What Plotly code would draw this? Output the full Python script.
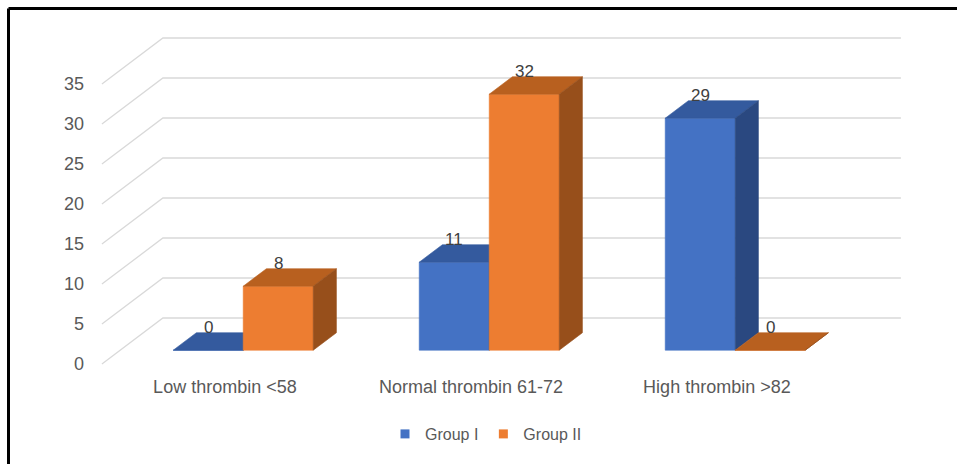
import plotly.graph_objects as go

# ---------------- data ----------------
categories = ["Low thrombin <58", "Normal thrombin 61-72", "High thrombin >82"]
series_names = ["Group I", "Group II"]
group1 = [0, 11, 29]
group2 = [8, 32, 0]
y_ticks = [0, 5, 10, 15, 20, 25, 30, 35]

# ---------------- styling / geometry ----------------
front_colors = ["#4472C4", "#ED7D31"]
top_colors = ["#345A9E", "#B8601F"]
side_colors = ["#2A4880", "#974F1B"]
grid_color = "#D9D9D9"
FONT = "Liberation Sans"

W, H = 957, 464
L, R, T, B = 97, 48, 30, 94
PX_X = 246.0           # pixels per category unit
PX_Y = 8.0             # pixels per value unit
plot_w = W - L - R
plot_h = H - T - B
x_lo = -0.52
x_hi = x_lo + plot_w / PX_X
y_lo = -0.75
y_hi = y_lo + plot_h / PX_Y

DX = 61.0 / PX_X       # full-depth offset (x units)
DY = 46.0 / PX_Y       # full-depth offset (value units)
ZF, ZB = 0.30, 0.68    # bar front / back depth
BW = 70.0 / PX_X       # bar width
WALL_L, WALL_R = -0.5, 2.5


def proj(x, v, z):
    return x + z * DX, v + z * DY


def poly(points):
    xs, ys = [], []
    for p in points:
        px, py = proj(*p)
        xs.append(px)
        ys.append(py)
    xs.append(xs[0])
    ys.append(ys[0])
    return xs, ys


fig = go.Figure()

# gridlines (side wall diagonal + back wall horizontal)
gx, gy = [], []
for v in y_ticks:
    for p in [(WALL_L, v, 0), (WALL_L, v, 1), (WALL_R, v, 1)]:
        a, b = proj(*p)
        gx.append(a)
        gy.append(b)
    gx.append(None)
    gy.append(None)
fig.add_trace(go.Scatter(x=gx, y=gy, mode="lines", line=dict(color=grid_color, width=1.3),
                         hoverinfo="skip", showlegend=False))

values = [group1, group2]
annotations = []
for i in range(len(categories)):
    for s in range(2):
        v = values[s][i]
        x0 = i - BW + s * BW
        x1 = x0 + BW
        faces = [
            ([(x0, 0, ZF), (x1, 0, ZF), (x1, v, ZF), (x0, v, ZF)], front_colors[s]),
            ([(x0, v, ZF), (x1, v, ZF), (x1, v, ZB), (x0, v, ZB)], top_colors[s]),
            ([(x1, 0, ZF), (x1, 0, ZB), (x1, v, ZB), (x1, v, ZF)], side_colors[s]),
        ]
        for pts, col in faces:
            xs, ys = poly(pts)
            fig.add_trace(go.Scatter(x=xs, y=ys, mode="lines", fill="toself",
                                     fillcolor=col, line=dict(color=col, width=0.6),
                                     hoverinfo="skip", showlegend=False))
        lx, _ = proj((x0 + x1) / 2, v, ZF)
        _, ly = proj(x0, v, ZB)
        annotations.append(dict(x=lx, y=ly, text=str(v), showarrow=False,
                                xref="x", yref="y", yanchor="middle", yshift=5,
                                font=dict(family=FONT, size=17, color="#404040")))

# legend entries
for s in range(2):
    fig.add_trace(go.Scatter(x=[None], y=[None], mode="markers", name=series_names[s],
                             marker=dict(symbol="square", size=9, color=front_colors[s])))

# frame (top and left black border)
bx = (8.5 - L) / plot_w
by = (plot_h + T - 8.5) / plot_h
shapes = [
    dict(type="line", xref="paper", yref="paper", x0=bx, x1=(W + 10 - L) / plot_w, y0=by, y1=by,
         line=dict(color="black", width=3)),
    dict(type="line", xref="paper", yref="paper", x0=bx, x1=bx, y0=by, y1=-(B + 10) / plot_h,
         line=dict(color="black", width=3)),
]

fig.update_layout(
    width=W, height=H,
    margin=dict(l=L, r=R, t=T, b=B, autoexpand=False),
    paper_bgcolor="white", plot_bgcolor="white",
    font=dict(family=FONT, color="#595959"),
    xaxis=dict(range=[x_lo, x_hi], tickvals=list(range(len(categories))), ticktext=categories,
               showgrid=False, zeroline=False, showline=False, ticks="",
               tickfont=dict(family=FONT, size=18, color="#595959"), ticklabelstandoff=4,
               fixedrange=True),
    yaxis=dict(range=[y_lo, y_hi], tickvals=y_ticks, showgrid=False, zeroline=False,
               showline=False, ticks="", tickfont=dict(family=FONT, size=18, color="#595959"),
               ticklabelstandoff=12, fixedrange=True),
    legend=dict(orientation="h", x=(486 - L) / plot_w, xanchor="center",
                y=(plot_h + T - 434) / plot_h, yanchor="middle",
                font=dict(family=FONT, size=16, color="#595959"), itemwidth=30),
    annotations=annotations,
    shapes=shapes,
    showlegend=True,
)

fig.write_html("out.html")
